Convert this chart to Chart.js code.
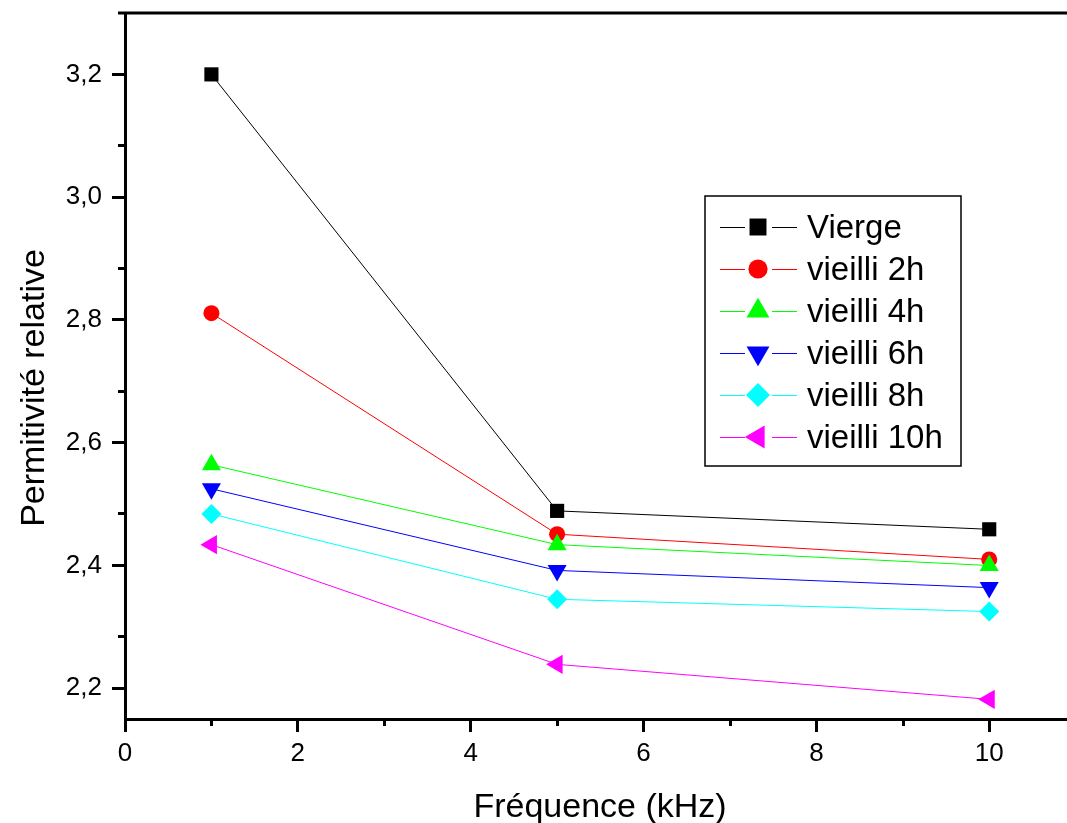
<!DOCTYPE html>
<html>
<head>
<meta charset="utf-8">
<script src="https://cdn.jsdelivr.net/npm/chart.js@4/dist/chart.umd.min.js"></script>
<style>
  html, body { margin: 0; padding: 0; background: #fff; }
  #wrap { width: 1067px; height: 823px; }
</style>
</head>
<body>
<div id="wrap"><canvas id="chart" width="1067" height="823"></canvas></div>
<script>
// ── Data ─────────────────────────────────────────────────────
const freqs = [1, 5, 10];

const vierge    = [3.200, 2.489, 2.459];
const vieilli2  = [2.811, 2.451, 2.410];
const vieilli4  = [2.564, 2.434, 2.400];
const vieilli6  = [2.525, 2.392, 2.364];
const vieilli8  = [2.484, 2.345, 2.325];
const vieilli10 = [2.434, 2.239, 2.182];

const seriesLabels = ["Vierge", "vieilli 2h", "vieilli 4h", "vieilli 6h", "vieilli 8h", "vieilli 10h"];

const xTicks      = [0, 2, 4, 6, 8, 10];
const xMinorTicks = [1, 3, 5, 7, 9];
const yTicks      = [2.2, 2.4, 2.6, 2.8, 3.0, 3.2];
const yMinorTicks = [2.285, 2.485, 2.685, 2.885, 3.085];

const FONT = "'Liberation Sans', Arial, Helvetica, sans-serif";

// ── Series styles ────────────────────────────────────────────
const styles = [
  { color: "#000000", pointStyle: "rect",     rotation: 0,   radius: 10 },
  { color: "#ff0000", pointStyle: "circle",   rotation: 0,   radius: 8  },
  { color: "#00ff00", pointStyle: "triangle", rotation: 0,   radius: 11 },
  { color: "#0000ff", pointStyle: "triangle", rotation: 180, radius: 11 },
  { color: "#00ffff", pointStyle: "rectRot",  rotation: 0,   radius: 10 },
  { color: "#ff00ff", pointStyle: "triangle", rotation: -90, radius: 11 }
];

const allSeries = [vierge, vieilli2, vieilli4, vieilli6, vieilli8, vieilli10];

const datasets = allSeries.map((vals, i) => ({
  label: seriesLabels[i],
  data: freqs.map((f, j) => ({ x: f, y: vals[j] })),
  borderColor: styles[i].color,
  backgroundColor: styles[i].color,
  borderWidth: 1,
  pointStyle: styles[i].pointStyle,
  pointRotation: styles[i].rotation,
  pointRadius: styles[i].radius,
  pointBackgroundColor: styles[i].color,
  pointBorderColor: styles[i].color,
  pointBorderWidth: 0,
  tension: 0,
  order: allSeries.length - i
}));

// ── Frame, minor ticks, titles, legend ───────────────────────
const decorPlugin = {
  id: "decor",
  afterDraw(chart) {
    const ctx = chart.ctx;
    const area = chart.chartArea;
    const xs = chart.scales.x;
    const ys = chart.scales.y;
    ctx.save();

    // top frame line
    ctx.strokeStyle = "#000";
    ctx.lineWidth = 3;
    ctx.beginPath();
    ctx.moveTo(area.left - 7, area.top);
    ctx.lineTo(area.right, area.top);
    ctx.stroke();

    // minor ticks
    xMinorTicks.forEach(v => {
      const px = Math.round(xs.getPixelForValue(v)) + 0.5;
      ctx.beginPath();
      ctx.moveTo(px, area.bottom);
      ctx.lineTo(px, area.bottom + 7);
      ctx.stroke();
    });
    yMinorTicks.forEach(v => {
      const py = Math.round(ys.getPixelForValue(v)) + 0.5;
      ctx.beginPath();
      ctx.moveTo(area.left, py);
      ctx.lineTo(area.left - 7, py);
      ctx.stroke();
    });

    // axis titles
    ctx.fillStyle = "#000";
    ctx.font = "34px " + FONT;
    ctx.textAlign = "center";
    ctx.textBaseline = "alphabetic";
    ctx.fillText("Fréquence (kHz)", 600, 817);

    ctx.save();
    ctx.translate(44, 388);
    ctx.rotate(-Math.PI / 2);
    ctx.fillText("Permitivité relative", 0, 0);
    ctx.restore();

    // legend
    const box = { x: 705, y: 196, w: 256, h: 270 };
    ctx.lineWidth = 1.5;
    ctx.strokeStyle = "#000";
    ctx.strokeRect(box.x, box.y, box.w, box.h);

    ctx.font = "33px " + FONT;
    ctx.textAlign = "left";
    ctx.textBaseline = "middle";
    chart.data.datasets.forEach((ds, i) => {
      const y = 227 + i * 42;
      ctx.strokeStyle = ds.borderColor;
      ctx.lineWidth = 1;
      ctx.beginPath();
      ctx.moveTo(720, y + 0.5);
      ctx.lineTo(745, y + 0.5);
      ctx.moveTo(772, y + 0.5);
      ctx.lineTo(797, y + 0.5);
      ctx.stroke();

      ctx.fillStyle = ds.pointBackgroundColor;
      ctx.strokeStyle = ds.pointBorderColor;
      Chart.helpers.drawPoint(ctx, {
        pointStyle: ds.pointStyle,
        rotation: ds.pointRotation,
        radius: ds.pointRadius * 1.2,
        borderWidth: 0
      }, 758, y);

      ctx.fillStyle = "#000";
      ctx.fillText(ds.label, 807, y + 2);
    });

    ctx.restore();
  }
};

// ── Chart ────────────────────────────────────────────────────
new Chart(document.getElementById("chart").getContext("2d"), {
  type: "line",
  data: { datasets },
  options: {
    responsive: false,
    animation: false,
    layout: {
      autoPadding: false,
      padding: { top: 13, right: 0, bottom: 0, left: 0 }
    },
    plugins: {
      legend: { display: false },
      tooltip: { enabled: false }
    },
    scales: {
      x: {
        type: "linear",
        min: 0,
        max: 10.9,
        afterFit: s => {
          s.height = 104;
          s.paddingLeft = 0;
          s.paddingRight = 0;
        },
        afterBuildTicks: s => { s.ticks = xTicks.map(v => ({ value: v })); },
        ticks: {
          color: "#000",
          font: { family: FONT, size: 26 },
          padding: 6,
          maxRotation: 0,
          callback: v => String(v)
        },
        grid: {
          drawOnChartArea: false,
          drawTicks: true,
          tickLength: 13,
          tickWidth: 3,
          tickColor: "#000"
        },
        border: { display: true, color: "#000", width: 3 }
      },
      y: {
        type: "linear",
        min: 2.15,
        max: 3.30,
        afterFit: s => {
          s.width = 125;
          s.paddingTop = 0;
          s.paddingBottom = 0;
        },
        afterBuildTicks: s => { s.ticks = yTicks.map(v => ({ value: v })); },
        ticks: {
          color: "#000",
          font: { family: FONT, size: 26 },
          padding: 10,
          callback: v => v.toFixed(1).replace(".", ",")
        },
        grid: {
          drawOnChartArea: false,
          drawTicks: true,
          tickLength: 13,
          tickWidth: 3,
          tickColor: "#000"
        },
        border: { display: true, color: "#000", width: 3 }
      }
    }
  },
  plugins: [decorPlugin]
});
</script>
</body>
</html>
